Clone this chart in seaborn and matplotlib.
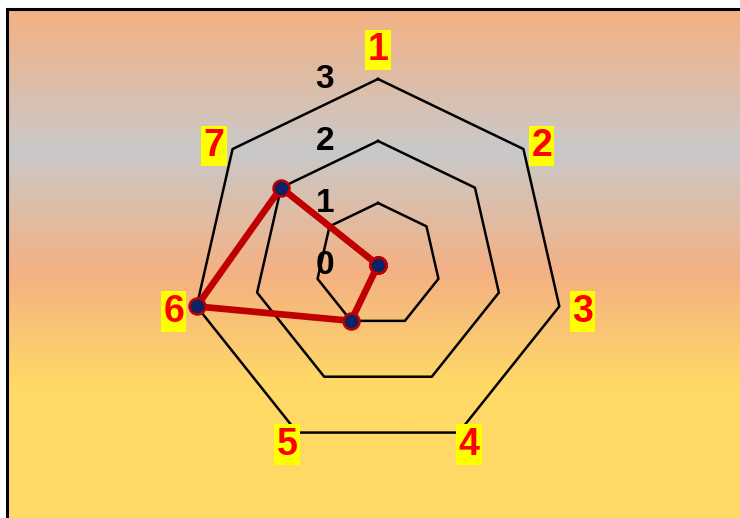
import numpy as np
import pandas as pd
import matplotlib
matplotlib.use("Agg")
import matplotlib.pyplot as plt
import seaborn as sns
from matplotlib.colors import LinearSegmentedColormap
from matplotlib.transforms import ScaledTranslation

categories = ["1", "2", "3", "4", "5", "6", "7"]
values = [0, 0, 0, 0, 1, 3, 2]
levels = [1, 2, 3]
level_labels = ["0", "1", "2", "3"]

plt.rcParams["font.family"] = ["Liberation Sans", "DejaVu Sans"]

fig = plt.figure(figsize=(7.4, 5.18), dpi=100)
fig.patch.set_facecolor("white")

# background panel with vertical gradient
bg = fig.add_axes([7 / 740, 0, 740 / 740, 509 / 518], zorder=0)
cmap = LinearSegmentedColormap.from_list(
    "bg",
    [(0.0, "#F4B183"), (0.277, "#C9C9C9"), (0.52, "#F4B183"),
     (0.74, "#FFD966"), (1.0, "#FFD966")],
)
grad = np.linspace(0, 1, 512).reshape(-1, 1)
bg.imshow(grad, aspect="auto", cmap=cmap, interpolation="bilinear")
bg.set_xticks([])
bg.set_yticks([])
for s in ["right", "bottom"]:
    bg.spines[s].set_visible(False)
for s in ["top", "left"]:
    bg.spines[s].set_linewidth(2.2)
    bg.spines[s].set_color("black")

# radar axes
ax = fig.add_axes([192 / 740, 67 / 518, 372 / 740, 372 / 518],
                  projection="polar", zorder=1)
ax.patch.set_alpha(0)
ax.set_theta_zero_location("N")
ax.set_theta_direction(-1)
ax.set_ylim(0, 3)
ax.grid(False)
ax.spines["polar"].set_visible(False)
ax.set_xticks([])
ax.set_yticks([])

n = len(categories)
theta = np.arange(n) * 2 * np.pi / n
theta_closed = np.append(theta, theta[0])

for lv in levels:
    ax.plot(theta_closed, [lv] * (n + 1), color="black", lw=1.8,
            clip_on=False, zorder=1)

df = pd.DataFrame({"theta": theta_closed, "value": values + [values[0]]})
sns.lineplot(data=df, x="theta", y="value", sort=False, estimator=None,
             ax=ax, color="#C00000", lw=4.8, marker="o", markersize=11.5,
             markerfacecolor="#0B2265", markeredgecolor="#C00000",
             markeredgewidth=1.8, clip_on=False, zorder=3)
ax.set_xlabel("")
ax.set_ylabel("")
ax.set_xticks([])
ax.set_yticks([])
ax.set_ylim(0, 3)

# radial level labels, shifted left of the vertical axis
offset = ax.transData + ScaledTranslation(-53 / 100, 0, fig.dpi_scale_trans)
for i, lab in enumerate(level_labels):
    ax.text(0, i, lab, transform=offset, ha="center", va="center",
            fontsize=24, fontweight="bold", color="black", zorder=2)

# category labels, placed on a slightly flattened ring outside the grid
lab_tr = ax.transData + ScaledTranslation(0, -3 / 100, fig.dpi_scale_trans)
rx, ry = 3.38, 3.16
for i, cat in enumerate(categories):
    sx = rx * np.sin(theta[i])
    sy = (3.52 if i == 0 else ry) * np.cos(theta[i])
    ax.text(np.arctan2(sx, sy), np.hypot(sx, sy), cat, transform=lab_tr,
            ha="center", va="center", color="#FF0000", fontsize=27,
            fontweight="bold",
            bbox=dict(facecolor="#FFFF00", edgecolor="none", pad=1.5))

fig.savefig("out.png", dpi=100)
